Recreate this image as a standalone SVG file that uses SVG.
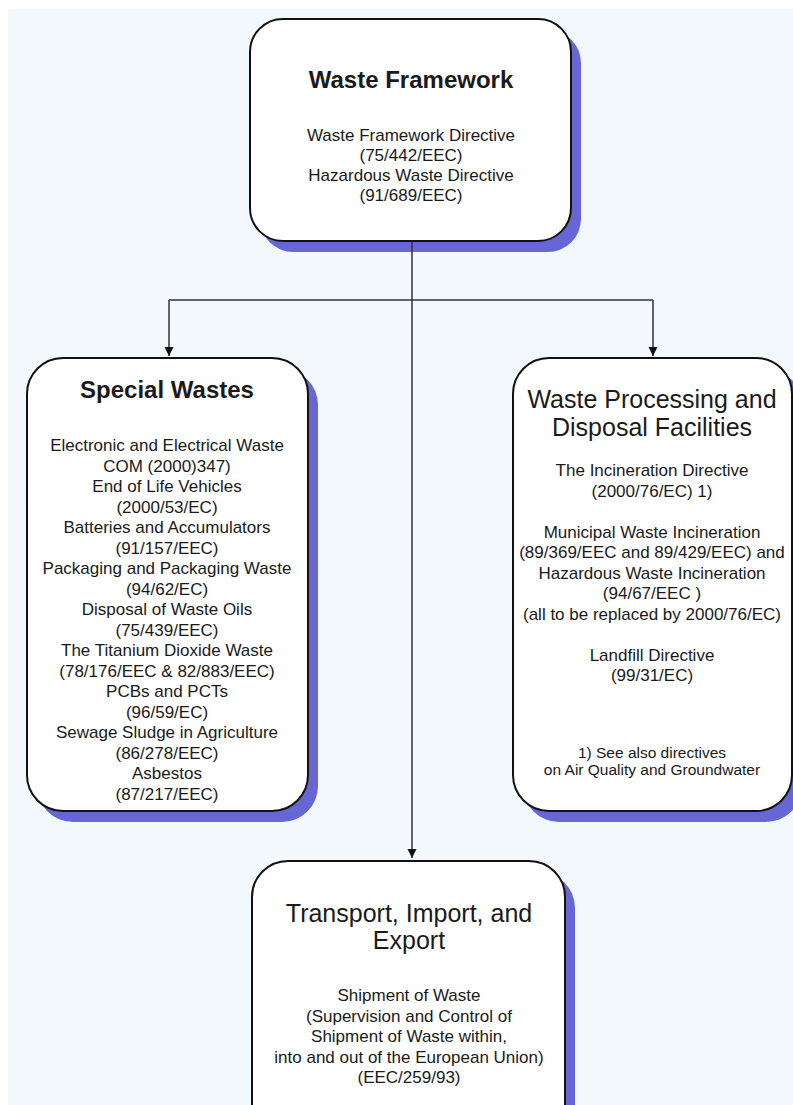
<svg xmlns="http://www.w3.org/2000/svg" width="793" height="1105" viewBox="0 0 793 1105">
<defs>
<style>
.box{fill:#ffffff;stroke:#111111;stroke-width:2}
.shadow{fill:#6666d4}
.conn{fill:none;stroke:#333333;stroke-width:1.5}
text{font-family:"Liberation Sans",Arial,sans-serif;fill:#1a1a1a;text-anchor:middle}
.tb{font-size:24px;font-weight:bold}
.tr{font-size:25px}
.b{font-size:17px}
.s{font-size:15.5px}
</style>
<marker id="arr" markerWidth="10" markerHeight="10" refX="9" refY="5" orient="auto" markerUnits="userSpaceOnUse">
<path d="M0,0.5 L9,5 L0,9.5 Z" fill="#111111"/>
</marker>
</defs>
<rect x="0" y="0" width="793" height="1105" fill="#ffffff"/>
<rect x="8" y="9" width="785" height="1096" fill="#f2f8fc"/>

<g id="shadows">
<rect class="shadow" x="260" y="30" width="321" height="222" rx="33"/>
<rect class="shadow" x="37" y="369" width="281" height="453" rx="36"/>
<rect class="shadow" x="523" y="369" width="279" height="453" rx="36"/>
<rect class="shadow" x="262" y="872" width="313" height="300" rx="36"/>
</g>

<g id="connectors">
<path class="conn" d="M412,241 L412,858" marker-end="url(#arr)"/>
<path class="conn" d="M169,300 L653,300"/>
<path class="conn" d="M169,300 L169,356" marker-end="url(#arr)"/>
<path class="conn" d="M653,300 L653,356" marker-end="url(#arr)"/>
</g>

<g id="node-waste-framework">
<rect class="box" x="250" y="19" width="321" height="222" rx="33"/>
<text class="tb" x="411" y="88">Waste Framework</text>
<text class="b" x="411" y="141">Waste Framework Directive</text>
<text class="b" x="411" y="161">(75/442/EEC)</text>
<text class="b" x="411" y="181">Hazardous Waste Directive</text>
<text class="b" x="411" y="201">(91/689/EEC)</text>
</g>

<g id="node-special-wastes">
<rect class="box" x="27" y="358" width="281" height="453" rx="36"/>
<text class="tb" x="167" y="398">Special Wastes</text>
<text class="b" x="167" y="451">Electronic and Electrical Waste</text>
<text class="b" x="167" y="471.5">COM (2000)347)</text>
<text class="b" x="167" y="492">End of Life Vehicles</text>
<text class="b" x="167" y="512.5">(2000/53/EC)</text>
<text class="b" x="167" y="533">Batteries and Accumulators</text>
<text class="b" x="167" y="553.5">(91/157/EEC)</text>
<text class="b" x="167" y="574">Packaging and Packaging Waste</text>
<text class="b" x="167" y="594.5">(94/62/EC)</text>
<text class="b" x="167" y="615">Disposal of Waste Oils</text>
<text class="b" x="167" y="635.5">(75/439/EEC)</text>
<text class="b" x="167" y="656">The Titanium Dioxide Waste</text>
<text class="b" x="167" y="676.5">(78/176/EEC &amp; 82/883/EEC)</text>
<text class="b" x="167" y="697">PCBs and PCTs</text>
<text class="b" x="167" y="717.5">(96/59/EC)</text>
<text class="b" x="167" y="738">Sewage Sludge in Agriculture</text>
<text class="b" x="167" y="758.5">(86/278/EEC)</text>
<text class="b" x="167" y="779">Asbestos</text>
<text class="b" x="167" y="799.5">(87/217/EEC)</text>
</g>

<g id="node-processing">
<rect class="box" x="513" y="358" width="279" height="453" rx="36"/>
<text class="tr" x="652" y="408">Waste Processing and</text>
<text class="tr" x="652" y="436">Disposal Facilities</text>
<text class="b" x="652" y="476">The Incineration Directive</text>
<text class="b" x="652" y="497">(2000/76/EC) 1)</text>
<text class="b" x="652" y="538">Municipal Waste Incineration</text>
<text class="b" x="652" y="558">(89/369/EEC and 89/429/EEC) and</text>
<text class="b" x="652" y="579">Hazardous Waste Incineration</text>
<text class="b" x="652" y="599">(94/67/EEC )</text>
<text class="b" x="652" y="620">(all to be replaced by 2000/76/EC)</text>
<text class="b" x="652" y="661">Landfill Directive</text>
<text class="b" x="652" y="681">(99/31/EC)</text>
<text class="s" x="652" y="758">1) See also directives</text>
<text class="s" x="652" y="775">on Air Quality and Groundwater</text>
</g>

<g id="node-transport">
<rect class="box" x="252" y="861" width="313" height="300" rx="36"/>
<text class="tr" x="409" y="922">Transport, Import, and</text>
<text class="tr" x="409" y="949">Export</text>
<text class="b" x="409" y="1001">Shipment of Waste</text>
<text class="b" x="409" y="1021.5">(Supervision and Control of</text>
<text class="b" x="409" y="1042">Shipment of Waste within,</text>
<text class="b" x="409" y="1062.5">into and out of the European Union)</text>
<text class="b" x="409" y="1083">(EEC/259/93)</text>
</g>
</svg>
